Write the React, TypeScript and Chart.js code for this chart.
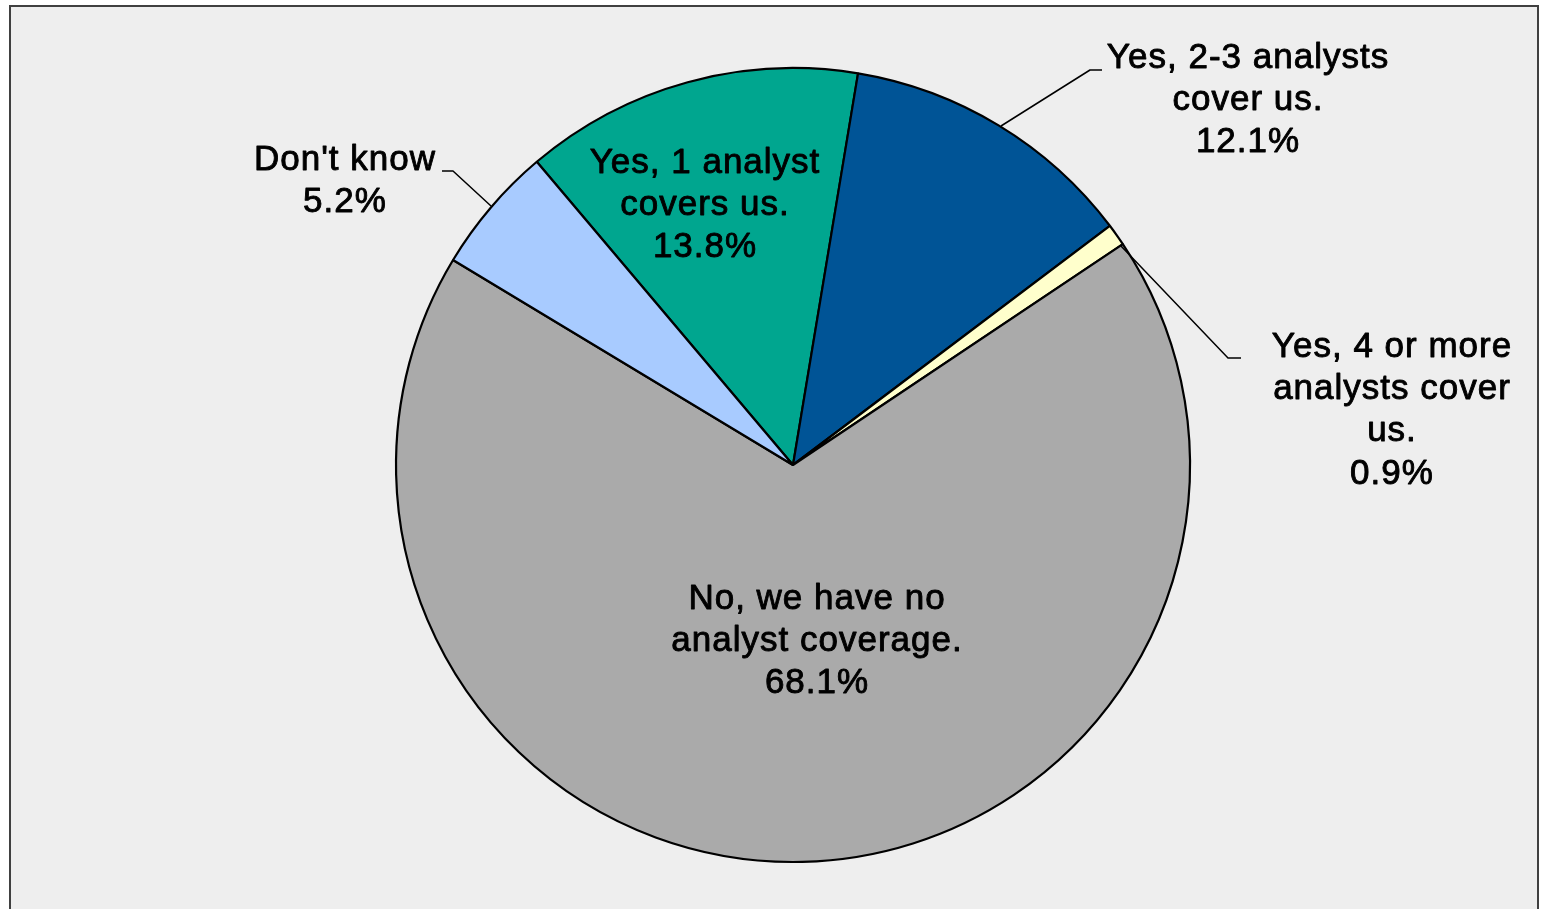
import React, { useEffect, useRef } from "react";
import { Chart, registerables } from "chart.js";

Chart.register(...registerables);

const categories = [
  "Yes, 1 analyst covers us.",
  "Yes, 2-3 analysts cover us.",
  "Yes, 4 or more analysts cover us.",
  "No, we have no analyst coverage.",
  "Don't know",
];
const values = [13.8, 12.1, 0.9, 68.1, 5.2];
const labelLines = [
  ["Yes, 1 analyst", "covers us.", "13.8%"],
  ["Yes, 2-3 analysts", "cover us.", "12.1%"],
  ["Yes, 4 or more", "analysts cover", "us.", "0.9%"],
  ["No, we have no", "analyst coverage.", "68.1%"],
  ["Don't know", "5.2%"],
];
const colors = ["#00A68F", "#005496", "#FFFFCC", "#AAAAAA", "#A8CBFF"];

// label placement: [centerX, firstLineY], leader lines (null = inside)
const labelPos: [number, number][] = [
  [705, 163],
  [1248, 58],
  [1392, 347],
  [817, 599],
  [345, 160],
];
const leaders: ([number, number][] | null)[] = [
  null,
  [[1001, 126], [1090, 70], [1102, 70]],
  [[1121, 246], [1228, 358], [1241, 358]],
  null,
  [[491, 206], [453, 171], [442, 171]],
];

const FONT = '35px "Liberation Sans", Arial, sans-serif';
const LINE_H = 42.3;

const bgPlugin = {
  id: "bg",
  beforeDraw(chart: any) {
    const ctx = chart.ctx;
    ctx.save();
    ctx.fillStyle = "#FFFFFF";
    ctx.fillRect(0, 0, chart.width, chart.height);
    ctx.fillStyle = "#EEEEEE";
    ctx.fillRect(10, 6, 1528, 920);
    ctx.strokeStyle = "#404040";
    ctx.lineWidth = 2;
    ctx.strokeRect(10, 6, 1528, 920);
    ctx.restore();
  },
};

const labelPlugin = {
  id: "labels",
  afterDatasetsDraw(chart: any) {
    const ctx = chart.ctx;
    ctx.save();
    ctx.font = FONT;
    try {
      (ctx as any).letterSpacing = "1px";
    } catch (e) {}
    ctx.fillStyle = "#000000";
    ctx.strokeStyle = "#000000";
    ctx.lineJoin = "round";
    ctx.textAlign = "center";
    ctx.textBaseline = "middle";
    labelLines.forEach((lines, i) => {
      const [cx, cy] = labelPos[i];
      lines.forEach((t, j) => {
        ctx.lineWidth = 0.9;
        ctx.fillText(t, cx, cy + j * LINE_H);
        ctx.strokeText(t, cx, cy + j * LINE_H);
      });
      const l = leaders[i];
      if (l) {
        ctx.beginPath();
        ctx.lineWidth = 1.5;
        ctx.moveTo(l[0][0], l[0][1]);
        for (let k = 1; k < l.length; k++) ctx.lineTo(l[k][0], l[k][1]);
        ctx.stroke();
      }
    });
    ctx.restore();
  },
};

export default function App() {
  const ref = useRef<HTMLCanvasElement | null>(null);
  useEffect(() => {
    if (!ref.current) return;
    const chart = new Chart(ref.current, {
      type: "pie",
      data: {
        labels: categories,
        datasets: [
          {
            data: values,
            backgroundColor: colors,
            borderColor: "#000000",
            borderWidth: 2.2,
            radius: 397,
          } as any,
        ],
      },
      options: {
        animation: false,
        responsive: false,
        rotation: -40.2,
        layout: { padding: { left: 45, right: 0, top: 21, bottom: 0 } },
        plugins: {
          legend: { display: false },
          tooltip: { enabled: false },
          title: { display: false },
        },
      },
      plugins: [bgPlugin, labelPlugin],
    });
    return () => chart.destroy();
  }, []);
  return (
    <div style={{ position: "absolute", left: 0, top: 0, width: 1541, height: 909 }}>
      <canvas ref={ref} width={1541} height={909} style={{ display: "block" }} />
    </div>
  );
}
